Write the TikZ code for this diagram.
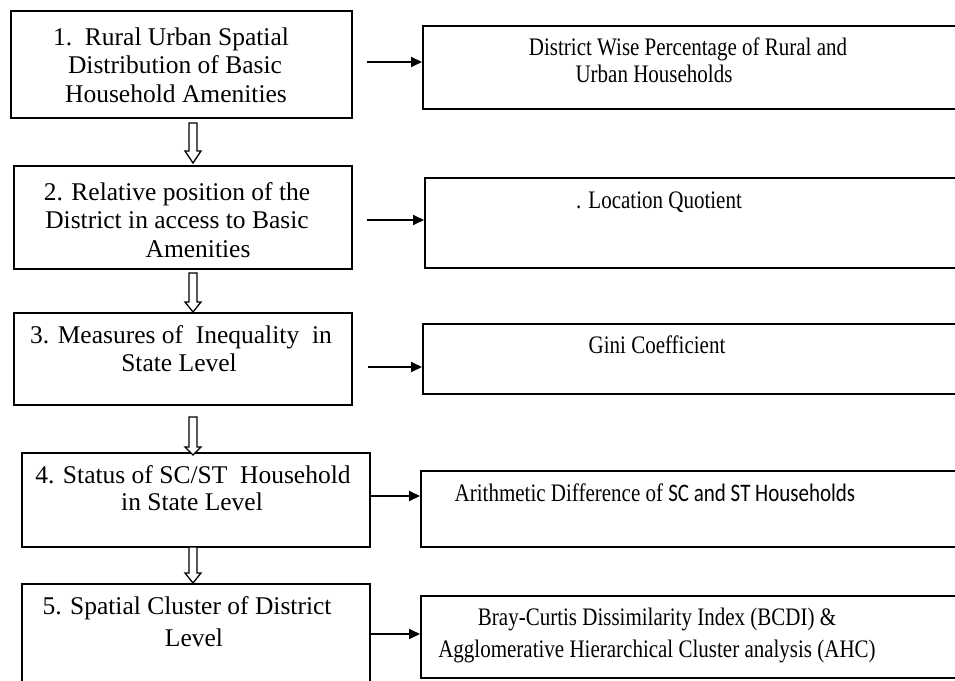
\documentclass[tikz,border=0pt]{standalone}
\usepackage{fontspec}
\setmainfont{Liberation Serif}
\newfontfamily\calib{Carlito}
\usetikzlibrary{arrows.meta}
\newcommand\rt[1]{\scalebox{1}[1.2]{#1}}
\begin{document}
\begin{tikzpicture}[x=1pt,y=-1pt,
  box/.style={draw, line width=1.8pt, inner sep=0pt, anchor=north west},
  txt/.style={anchor=base, inner sep=0pt, font=\fontsize{25.5}{28}\selectfont},
  rtxt/.style={anchor=base, inner sep=0pt, font=\fontsize{21}{25}\selectfont},
  arr/.style={line width=1.8pt, -{Triangle[length=11pt,width=10pt]}},
  hollow/.style={draw, line width=1.3pt, line join=miter, fill=white}]
\clip (0,0) rectangle (955,680);
\fill[white] (0,0) rectangle (955,680);
% left boxes
\node[box, minimum width=341pt, minimum height=107pt] (b1) at (10,10) {};
\node[box, minimum width=338pt, minimum height=103pt] (b2) at (13,165) {};
\node[box, minimum width=338pt, minimum height=92pt] (b3) at (13,312) {};
\node[box, minimum width=348pt, minimum height=94pt] (b4) at (21,452) {};
\node[box, minimum width=348pt, minimum height=102pt] (b5) at (21,583) {};
% right boxes
\node[box, minimum width=540pt, minimum height=83pt] (r1) at (422,25) {};
\node[box, minimum width=540pt, minimum height=90pt] (r2) at (424,177) {};
\node[box, minimum width=540pt, minimum height=70pt] (r3) at (422,323) {};
\node[box, minimum width=540pt, minimum height=76pt] (r4) at (420,470) {};
\node[box, minimum width=540pt, minimum height=82pt] (r5) at (420,595) {};
% left texts
\node[txt] (t1a) at (171,45) {1.\ \ Rural Urban Spatial};
\node[txt] (t1b) at (175,73) {Distribution of Basic};
\node[txt] (t1c) at (176,102) {Household Amenities};
\node[txt] (t2a) at (177,200) {2. Relative position of the};
\node[txt] (t2b) at (177,228) {District in access to Basic};
\node[txt] (t2c) at (198,257) {Amenities};
\node[txt] (t3a) at (181,343) {3. Measures of\ \ Inequality\ \ in};
\node[txt] (t3b) at (179,371) {State Level};
\node[txt] (t4a) at (193,483) {4. Status of SC/ST\ \ Household};
\node[txt] (t4b) at (192,510) {in State Level};
\node[txt] (t5a) at (187,614) {5. Spatial Cluster of District};
\node[txt] (t5b) at (194,646) {Level};
% right texts
\node[rtxt] (u1a) at (688,55) {\rt{District Wise Percentage of Rural and}};
\node[rtxt] (u1b) at (654,82) {\rt{Urban Households}};
\node[rtxt] (u2) at (659,208) {\rt{. Location Quotient}};
\node[rtxt] (u3) at (657,353) {\rt{Gini Coefficient}};
\node[rtxt] (u4) at (655,501) {\rt{Arithmetic Difference of {\calib SC and ST Households}}};
\node[rtxt] (u5a) at (657,625) {\rt{Bray-Curtis Dissimilarity Index (BCDI) \&}};
\node[rtxt] (u5b) at (657,657) {\rt{Agglomerative Hierarchical Cluster analysis (AHC)}};
% right arrows
\coordinate (s1) at (367,62);
\coordinate (s2) at (367,220);
\coordinate (s3) at (368,367);
\draw[arr] (s1) -- (s1 -| r1.west);
\draw[arr] (s2) -- (s2 -| r2.west);
\draw[arr] (s3) -- (s3 -| r3.west);
\draw[arr] (b4.east |- 0,496) -- (r4.west |- 0,496);
\draw[arr] (b5.east |- 0,634) -- (r5.west |- 0,634);
% hollow arrows
\newcommand\hollowarrow[4]{%
  \draw[hollow] (#1-4,#2) -- (#1-4,#3) -- (#1-8,#3) -- (#1,#4) -- (#1+8,#3) -- (#1+4,#3) -- (#1+4,#2) -- cycle;}
\hollowarrow{193}{123}{151}{163}
\hollowarrow{193}{273}{302}{312}
\hollowarrow{193}{417}{447}{455}
\hollowarrow{193}{547}{573}{583}
\end{tikzpicture}
\end{document}
